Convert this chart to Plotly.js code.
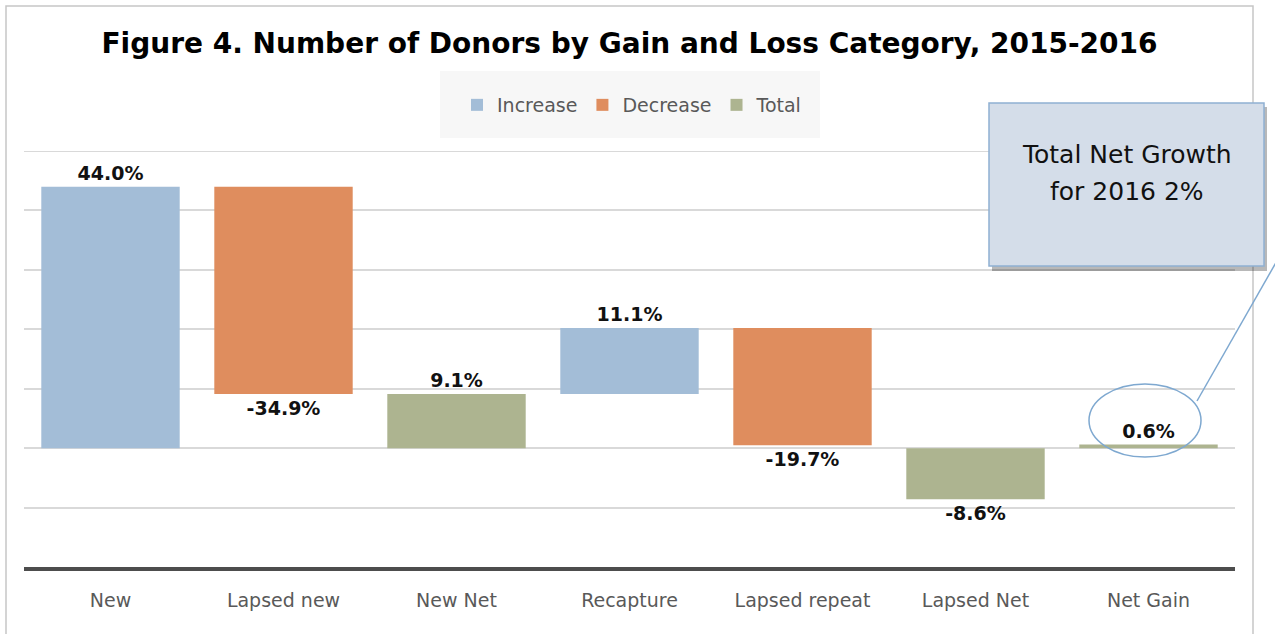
<!DOCTYPE html>
<html>
<head>
<meta charset="utf-8">
<script src="https://cdn.plot.ly/plotly-3.0.1.min.js"></script>
<style>html,body{margin:0;padding:0;background:#fff;}#chart{width:1275px;height:634px;}</style>
</head>
<body>
<div id="chart"></div>
<script>
// ---- Data ----
var categories = ["New", "Lapsed new", "New Net", "Recapture", "Lapsed repeat", "Lapsed Net", "Net Gain"];
var values     = [44.0, -34.9, 9.1, 11.1, -19.7, -8.6, 0.6];
var kinds      = ["increase", "decrease", "total", "increase", "decrease", "total", "total"];
var seriesNames = {increase: "Increase", decrease: "Decrease", total: "Total"};
var seriesColors = {increase: "#a3bdd7", decrease: "#df8d5e", total: "#adb490"};

// running levels for the floating bars
var bases = [];
var level = 0;
for (var i = 0; i < values.length; i++) {
  if (kinds[i] === "total") { bases.push(0); }
  else { bases.push(level); level += values[i]; }
}

var FONT = "DejaVu Sans";
var traces = ["increase", "decrease", "total"].map(function (k) {
  var xs = [], ys = [], bs = [], ts = [];
  for (var i = 0; i < categories.length; i++) {
    if (kinds[i] === k) {
      xs.push(categories[i]); ys.push(values[i]); bs.push(bases[i]);
      ts.push("<b>" + values[i].toFixed(1) + "%</b>");
    }
  }
  return {
    type: "bar", name: seriesNames[k], x: xs, y: ys, base: bs,
    width: 0.8,
    marker: {color: seriesColors[k], line: {width: 0}},
    text: ts, textposition: "outside", cliponaxis: false,
    textfont: {family: FONT, size: 19, color: "#111"},
    hoverinfo: "x+y"
  };
});

// pixel -> paper helpers for decorations
var L = 24, T = 151, W = 1211, H = 416;
function px(x) { return (x - L) / W; }
function py(y) { return (T + H - y) / H; }

var layout = {
  width: 1275, height: 634,
  margin: {l: L, r: 1275 - L - W, t: T, b: 634 - T - H, pad: 0},
  paper_bgcolor: "#ffffff", plot_bgcolor: "rgba(0,0,0,0)",
  font: {family: FONT, color: "#595959"},
  barmode: "overlay",
  title: {
    text: "<b>Figure 4. Number of Donors by Gain and Loss Category, 2015-2016</b>",
    font: {family: FONT, size: 28, color: "#000"},
    xref: "paper", x: 0.5, xanchor: "center",
    yref: "container", y: 1 - 43 / 634, yanchor: "middle"
  },
  showlegend: true,
  legend: {
    orientation: "h", xref: "paper", x: px(632), xanchor: "center",
    yref: "paper", y: py(105), yanchor: "middle",
    bgcolor: "rgba(0,0,0,0)", font: {family: FONT, size: 19, color: "#595959"},
    traceorder: "normal"
  },
  xaxis: {
    type: "category", categoryorder: "array", categoryarray: categories,
    showgrid: false, zeroline: false,
    showline: true, linecolor: "#4d4d4d", linewidth: 4,
    ticks: "", ticklabelstandoff: 13,
    tickfont: {family: FONT, size: 19, color: "#595959"},
    fixedrange: true
  },
  yaxis: {
    range: [-20, 50], dtick: 10, tick0: 0,
    showgrid: true, gridcolor: "#d9d9d9", gridwidth: 2,
    zeroline: false, showticklabels: false, ticks: "", fixedrange: true
  },
  shapes: [
    // outer frame
    {type: "rect", xref: "paper", yref: "paper", x0: px(6), x1: px(1253), y0: py(650), y1: py(6),
     line: {color: "#c6c6c6", width: 1.5}, fillcolor: "rgba(0,0,0,0)", layer: "below"},
    // top gridline at the range edge
    {type: "line", xref: "paper", yref: "y", x0: 0, x1: 1, y0: 50, y1: 50,
     line: {color: "#d9d9d9", width: 2}, layer: "below"},
    // legend background
    {type: "rect", xref: "paper", yref: "paper", x0: px(440), x1: px(820), y0: py(138), y1: py(71),
     line: {width: 0}, fillcolor: "#f7f7f7", layer: "below"},
    // callout shadow
    {type: "rect", xref: "paper", yref: "paper", x0: px(992), x1: px(1267), y0: py(271), y1: py(107),
     line: {width: 0}, fillcolor: "rgba(0,0,0,0.28)", layer: "above"},
    // callout box
    {type: "rect", xref: "paper", yref: "paper", x0: px(989), x1: px(1264), y0: py(266), y1: py(103),
     line: {color: "#8fb0d2", width: 1.5}, fillcolor: "#d4dde9", layer: "above"},
    // pointer line
    {type: "line", xref: "paper", yref: "paper", x0: px(1197), y0: py(401), x1: px(1282), y1: py(252),
     line: {color: "#7ea8d0", width: 1.5}, layer: "above"},
    // ellipse around the net gain label
    {type: "circle", xref: "paper", yref: "paper", x0: px(1089), x1: px(1201), y0: py(457), y1: py(384),
     line: {color: "#7ea8d0", width: 1.5}, fillcolor: "rgba(0,0,0,0)", layer: "above"}
  ],
  annotations: [
    {xref: "paper", yref: "paper", x: px(1127), y: py(154), text: "Total Net Growth", showarrow: false,
     xanchor: "center", yanchor: "middle", font: {family: FONT, size: 25, color: "#111"}},
    {xref: "paper", yref: "paper", x: px(1127), y: py(191), text: "for 2016 2%", showarrow: false,
     xanchor: "center", yanchor: "middle", font: {family: FONT, size: 25, color: "#111"}}
  ]
};

Plotly.newPlot("chart", traces, layout, {displayModeBar: false, staticPlot: true});
</script>
</body>
</html>
